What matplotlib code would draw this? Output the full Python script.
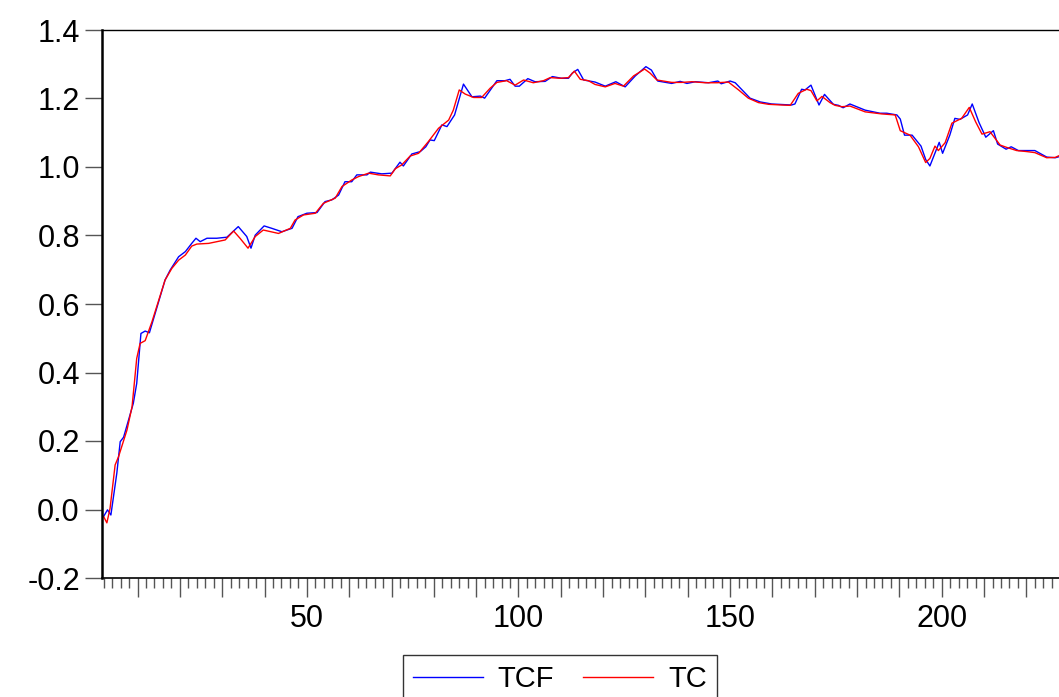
import matplotlib.pyplot as plt
from matplotlib.ticker import MultipleLocator, FuncFormatter

plt.rcParams['font.family'] = ['Liberation Sans', 'DejaVu Sans']
plt.rcParams['axes.unicode_minus'] = False

# TCF: fitted series (observation, value)
tcf_obs = [2.0, 2.9, 3.7, 5.1, 5.9, 6.7, 9.0, 9.8, 10.8, 11.8, 12.8, 14.9, 16.5, 17.7,
           19.7, 21.3, 22.8, 23.8, 24.8, 26.4, 28.7, 31.1, 33.8, 35.8, 36.8, 37.8, 39.9,
           41.7, 44.1, 46.5, 47.9, 50.0, 52.4, 54.3, 55.9, 57.5, 59.0, 60.6, 61.8, 64.2,
           65.0, 67.7, 70.1, 72.0, 72.8, 74.8, 76.8, 78.1, 79.1, 80.1, 81.9, 83.1, 84.9,
           87.0, 89.0, 91.0, 92.0, 94.9, 96.8, 98.0, 99.2, 100.2, 102.2, 103.9, 106.3,
           108.0, 110.2, 111.8, 112.7, 114.0, 115.4, 118.1, 120.5, 123.0, 125.2, 127.6,
           130.1, 131.4, 132.9, 136.2, 138.2, 139.8, 141.8, 144.9, 147.1, 147.9, 150.0,
           151.2, 154.7, 157.1, 159.8, 164.5, 165.3, 166.9, 167.7, 169.1, 171.0, 172.3,
           174.4, 175.6, 176.7, 178.3, 181.9, 185.4, 187.0, 189.4, 190.2, 191.2, 193.0,
           195.1, 196.2, 197.2, 199.4, 200.2, 201.9, 203.1, 204.3, 206.1, 207.2, 208.8,
           210.4, 212.2, 213.2, 215.2, 216.4, 218.1, 219.7, 222.0, 224.8, 226.8, 227.7]
tcf_val = [-0.020, -0.001, -0.016, 0.106, 0.198, 0.211, 0.310, 0.368, 0.514, 0.521, 0.516,
           0.603, 0.670, 0.699, 0.738, 0.753, 0.777, 0.792, 0.782, 0.792, 0.792, 0.795,
           0.826, 0.797, 0.763, 0.801, 0.828, 0.821, 0.811, 0.821, 0.855, 0.865, 0.867,
           0.899, 0.904, 0.918, 0.957, 0.957, 0.977, 0.977, 0.985, 0.980, 0.982, 1.014,
           1.003, 1.038, 1.045, 1.059, 1.079, 1.077, 1.123, 1.118, 1.152, 1.242, 1.205,
           1.207, 1.201, 1.252, 1.252, 1.256, 1.236, 1.236, 1.258, 1.249, 1.250, 1.264,
           1.259, 1.259, 1.274, 1.285, 1.254, 1.248, 1.236, 1.249, 1.234, 1.266, 1.293,
           1.283, 1.251, 1.244, 1.250, 1.244, 1.249, 1.246, 1.251, 1.243, 1.251, 1.246,
           1.201, 1.190, 1.184, 1.181, 1.184, 1.227, 1.225, 1.239, 1.181, 1.212, 1.183,
           1.180, 1.173, 1.184, 1.166, 1.157, 1.157, 1.152, 1.140, 1.093, 1.093, 1.061,
           1.022, 1.003, 1.072, 1.040, 1.093, 1.142, 1.139, 1.152, 1.184, 1.130, 1.087,
           1.106, 1.067, 1.052, 1.059, 1.048, 1.048, 1.048, 1.029, 1.027, 1.030]

# TC: actual series
tc_obs = [2.0, 2.75, 3.5, 4.7, 5.5, 7.5, 8.7, 9.8, 10.6, 11.8, 13.4, 14.9, 16.5, 18.1,
          19.7, 21.3, 22.8, 24.0, 26.8, 30.7, 32.7, 34.2, 36.1, 37.8, 39.7, 43.3, 46.1,
          47.2, 49.2, 52.0, 53.9, 56.7, 58.3, 60.6, 62.2, 64.6, 66.9, 69.7, 70.9, 72.4,
          74.4, 76.4, 78.7, 81.1, 83.5, 84.6, 86.0, 87.4, 89.4, 91.3, 93.3, 94.9, 97.2,
          99.2, 101.2, 103.5, 105.9, 107.5, 109.8, 111.8, 113.2, 114.6, 116.5, 118.1,
          120.5, 122.8, 124.8, 127.2, 129.8, 131.1, 132.7, 136.2, 138.6, 141.0, 144.1,
          146.9, 149.6, 152.0, 154.3, 156.7, 159.1, 162.2, 164.2, 166.1, 168.1, 169.1,
          170.5, 171.7, 173.6, 174.8, 176.4, 178.3, 181.9, 185.8, 189.0, 190.2, 192.5,
          194.5, 196.2, 197.2, 198.4, 199.2, 200.8, 202.4, 204.7, 206.5, 208.0, 209.5,
          211.4, 213.8, 215.4, 217.7, 220.1, 222.0, 224.8, 226.8, 227.7]
tc_val = [-0.021, -0.039, 0.003, 0.130, 0.154, 0.232, 0.300, 0.441, 0.485, 0.493, 0.548,
          0.607, 0.670, 0.704, 0.728, 0.743, 0.769, 0.775, 0.777, 0.787, 0.813, 0.792,
          0.763, 0.797, 0.816, 0.806, 0.821, 0.845, 0.860, 0.865, 0.894, 0.909, 0.943,
          0.962, 0.972, 0.982, 0.977, 0.974, 0.995, 1.006, 1.032, 1.040, 1.074, 1.113,
          1.137, 1.166, 1.225, 1.213, 1.203, 1.203, 1.230, 1.247, 1.252, 1.239, 1.254,
          1.246, 1.252, 1.261, 1.259, 1.261, 1.280, 1.256, 1.252, 1.241, 1.234, 1.244,
          1.236, 1.266, 1.286, 1.274, 1.254, 1.247, 1.247, 1.249, 1.246, 1.246, 1.248,
          1.225, 1.201, 1.188, 1.183, 1.181, 1.180, 1.215, 1.227, 1.223, 1.193, 1.206,
          1.188, 1.180, 1.176, 1.178, 1.161, 1.155, 1.152, 1.106, 1.093, 1.059, 1.013,
          1.025, 1.061, 1.048, 1.071, 1.128, 1.142, 1.174, 1.132, 1.096, 1.103, 1.064,
          1.057, 1.048, 1.045, 1.042, 1.027, 1.028, 1.033]

fig = plt.figure(figsize=(10.59, 6.97), dpi=100)
ax = fig.add_axes([102 / 1059, 1 - 578 / 697, 1 - 102 / 1059, 548 / 697])

ax.plot(tcf_obs, tcf_val, color="#0000ff", linewidth=1.0, label="TCF")
ax.plot(tc_obs, tc_val, color="#ff0000", linewidth=1.0, label="TC")

ax.set_xlim(1.6, 227.7)
ax.set_ylim(-0.2, 1.4)

ax.yaxis.set_major_locator(MultipleLocator(0.2))
ax.yaxis.set_major_formatter(FuncFormatter(lambda v, p: "%.1f" % v))
ax.xaxis.set_major_locator(MultipleLocator(10))
ax.xaxis.set_minor_locator(MultipleLocator(2))
# only every fifth major tick gets a number
ax.xaxis.set_major_formatter(FuncFormatter(lambda v, p: "%d" % v if round(v) % 50 == 0 else ""))

ax.tick_params(axis="y", direction="out", length=12, width=1, color="#555555",
               labelsize=22, pad=4)
ax.tick_params(axis="x", which="major", direction="out", length=14, width=1,
               color="#555555", labelsize=22, pad=5)
ax.tick_params(axis="x", which="minor", direction="out", length=7, width=1, color="#555555")

for side in ["left", "bottom", "top"]:
    ax.spines[side].set_color("black")
ax.spines["left"].set_linewidth(1.8)
ax.spines["bottom"].set_linewidth(1.2)
ax.spines["top"].set_linewidth(1.0)
ax.spines["right"].set_visible(False)

# legend sits at the bottom edge, its lower border runs off the figure
leg = fig.legend(loc="upper left", bbox_to_anchor=(403 / 1059, 1 - 655 / 697), ncol=2,
                 fontsize=21, frameon=True, fancybox=False, handlelength=2.4,
                 columnspacing=1.0, borderpad=0.35, handletextpad=0.5, borderaxespad=0)
leg.get_frame().set_edgecolor("black")
leg.get_frame().set_linewidth(1.0)

fig.savefig("out.png", dpi=100)
